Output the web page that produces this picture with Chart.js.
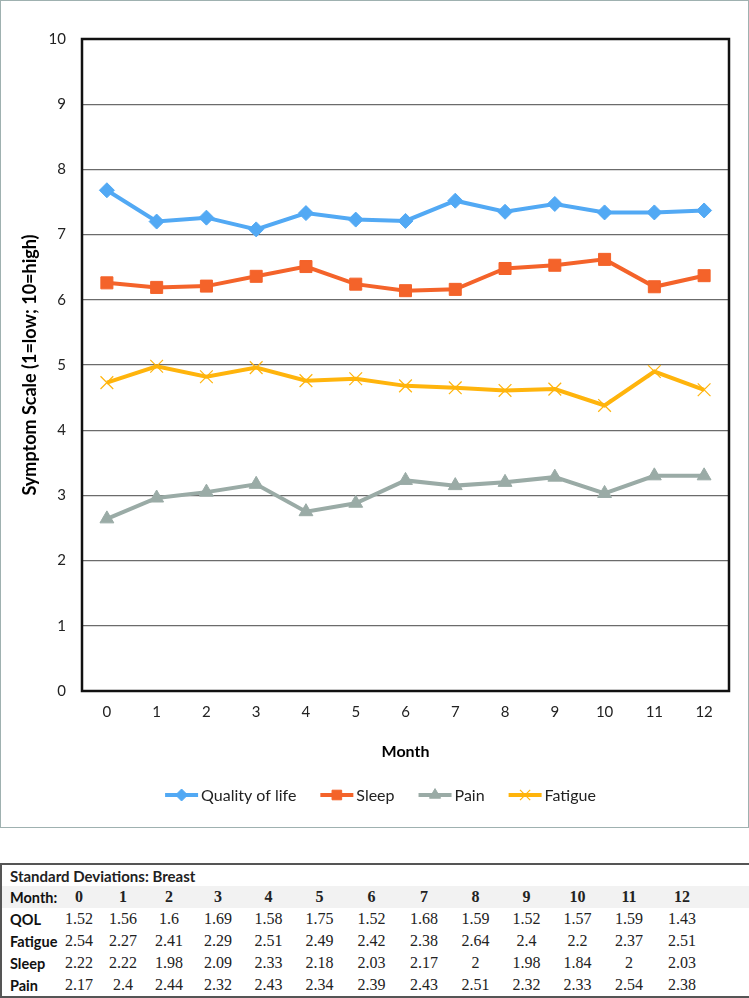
<!DOCTYPE html>
<html>
<head>
<meta charset="utf-8">
<script src="https://cdn.jsdelivr.net/npm/chart.js@4.4.0/dist/chart.umd.min.js"></script>
<style>
  body { margin: 0; background: #fff; width: 749px; height: 998px; position: relative; overflow: hidden; }
  #chartBox { position: absolute; left: 0; top: 0; width: 749px; height: 828px; }
  #frame { position: absolute; left: 0; top: 0; width: 747px; height: 826px; border: 1px solid #9fb1b0; pointer-events: none; }
  #sdTable { position: absolute; left: 0; top: 863px; width: 749px; height: 135px; border: 2px solid #555; border-collapse: collapse; table-layout: fixed; box-sizing: border-box; }
  #sdTable td { padding: 0; text-align: center; font-family: "Liberation Serif", "DejaVu Serif", serif; font-size: 16px; color: #222; white-space: nowrap; }
  #sdTable td.lab { text-align: left; padding-left: 8px; font-family: Lato, "Open Sans", sans-serif; font-weight: bold; font-size: 14.5px; color: #111; }
  #sdTable tr.title td { text-align: left; padding-left: 8px; font-family: Lato, "Open Sans", sans-serif; font-weight: bold; font-size: 15px; height: 21px; }
  #sdTable tr.head td { background: #f2f2f2; font-weight: bold; height: 22px; }
  #sdTable tr.row td { height: 22px; }
</style>
</head>
<body>
<div id="chartBox"><canvas id="myChart" width="749" height="828"></canvas></div>
<div id="frame"></div>
<table id="sdTable">
  <colgroup id="cols"></colgroup>
  <tbody id="sdBody"></tbody>
</table>
<script>
// chart values
const months = ['0', '1', '2', '3', '4', '5', '6', '7', '8', '9', '10', '11', '12'];
const qol     = [7.68, 7.20, 7.26, 7.08, 7.33, 7.23, 7.21, 7.52, 7.35, 7.47, 7.34, 7.34, 7.37];
const sleep   = [6.26, 6.19, 6.21, 6.36, 6.51, 6.24, 6.14, 6.16, 6.48, 6.53, 6.62, 6.20, 6.37];
const pain    = [2.64, 2.96, 3.05, 3.17, 2.75, 2.88, 3.23, 3.15, 3.20, 3.28, 3.03, 3.30, 3.30];
const fatigue = [4.73, 4.98, 4.82, 4.96, 4.76, 4.79, 4.68, 4.65, 4.61, 4.63, 4.38, 4.90, 4.62];

// standard deviation table
const sdQol     = ['1.52', '1.56', '1.6', '1.69', '1.58', '1.75', '1.52', '1.68', '1.59', '1.52', '1.57', '1.59', '1.43'];
const sdFatigue = ['2.54', '2.27', '2.41', '2.29', '2.51', '2.49', '2.42', '2.38', '2.64', '2.4', '2.2', '2.37', '2.51'];
const sdSleep   = ['2.22', '2.22', '1.98', '2.09', '2.33', '2.18', '2.03', '2.17', '2', '1.98', '1.84', '2', '2.03'];
const sdPain    = ['2.17', '2.4', '2.44', '2.32', '2.43', '2.34', '2.39', '2.43', '2.51', '2.32', '2.33', '2.54', '2.38'];

// build the table
const colW = [56, 44, 44, 48, 50, 51, 51, 53, 52, 51, 51, 51, 52, 54, 41];
document.getElementById('cols').innerHTML = colW.map(w => '<col style="width:' + w + 'px">').join('');
const body = document.getElementById('sdBody');
function addRow(cls, label, vals) {
  const tr = document.createElement('tr');
  tr.className = cls;
  let html = '<td class="lab">' + label + '</td>';
  vals.forEach(v => { html += '<td>' + v + '</td>'; });
  html += '<td></td>';
  tr.innerHTML = html;
  body.appendChild(tr);
}
const titleRow = document.createElement('tr');
titleRow.className = 'title';
titleRow.innerHTML = '<td colspan="15">Standard Deviations: Breast</td>';
body.appendChild(titleRow);
addRow('head', 'Month:', months);
addRow('row', 'QOL', sdQol);
addRow('row', 'Fatigue', sdFatigue);
addRow('row', 'Sleep', sdSleep);
addRow('row', 'Pain', sdPain);

Chart.defaults.font.family = 'Lato, "Open Sans", sans-serif';
Chart.defaults.color = '#222';

// plot frame (black box round the plot area)
const plotFrame = {
  id: 'plotFrame',
  beforeDatasetsDraw(chart) {
    const a = chart.chartArea;
    const c = chart.ctx;
    c.save();
    c.strokeStyle = '#111';
    c.lineWidth = 2.5;
    c.strokeRect(a.left, a.top, a.right - a.left, a.bottom - a.top);
    c.restore();
  }
};

// legend drawn as line + marker, like the office chart
const lineLegend = {
  id: 'lineLegend',
  afterDraw(chart) {
    const c = chart.ctx;
    const y = 795;
    const lineLen = 33, gapText = 3, gapItem = 24;
    c.save();
    c.font = '16px Lato, "Open Sans", sans-serif';
    c.textBaseline = 'middle';
    const items = chart.data.datasets.map(ds => ({ ds, w: lineLen + gapText + c.measureText(ds.label).width }));
    const total = items.reduce((s, it) => s + it.w, 0) + gapItem * (items.length - 1);
    let x = chart.width / 2 + 6 - total / 2;
    items.forEach(it => {
      const ds = it.ds;
      c.strokeStyle = ds.borderColor;
      c.lineWidth = ds.borderWidth;
      c.beginPath();
      c.moveTo(x, y);
      c.lineTo(x + lineLen, y);
      c.stroke();
      c.fillStyle = ds.pointBackgroundColor;
      c.strokeStyle = ds.pointBorderColor;
      c.lineWidth = ds.pointBorderWidth;
      Chart.helpers.drawPoint(c, { pointStyle: ds.pointStyle, radius: ds.pointRadius * 0.8, borderWidth: ds.pointBorderWidth }, x + lineLen / 2, y);
      c.fillStyle = '#222';
      c.fillText(ds.label, x + lineLen + gapText, y + 1);
      x += it.w + gapItem;
    });
    c.restore();
  }
};

const ctx = document.getElementById('myChart').getContext('2d');
const myChart = new Chart(ctx, {
  type: 'line',
  data: {
    labels: months,
    datasets: [{
      label: 'Quality of life',
      data: qol,
      borderColor: '#52a9f4',
      backgroundColor: '#52a9f4',
      pointBackgroundColor: '#52a9f4',
      pointBorderColor: '#52a9f4',
      borderWidth: 4,
      pointStyle: 'rectRot',
      pointRadius: 7.5,
      pointBorderWidth: 1
    }, {
      label: 'Sleep',
      data: sleep,
      borderColor: '#f4632a',
      backgroundColor: '#f4632a',
      pointBackgroundColor: '#f4632a',
      pointBorderColor: '#f4632a',
      borderWidth: 4,
      pointStyle: 'rect',
      pointRadius: 8.5,
      pointBorderWidth: 1
    }, {
      label: 'Pain',
      data: pain,
      borderColor: '#9aaba6',
      backgroundColor: '#9aaba6',
      pointBackgroundColor: '#9aaba6',
      pointBorderColor: '#9aaba6',
      borderWidth: 4,
      pointStyle: 'triangle',
      pointRadius: 8,
      pointBorderWidth: 1
    }, {
      label: 'Fatigue',
      data: fatigue,
      borderColor: '#ffb40c',
      backgroundColor: '#ffb40c',
      pointBackgroundColor: '#ffb40c',
      pointBorderColor: '#ffb40c',
      borderWidth: 4,
      pointStyle: 'crossRot',
      pointRadius: 9,
      pointBorderWidth: 1.2
    }]
  },
  options: {
    responsive: false,
    animation: false,
    devicePixelRatio: 1,
    layout: { padding: { left: 0, top: 39, right: 20, bottom: 57 } },
    plugins: {
      legend: { display: false },
      tooltip: { enabled: false }
    },
    scales: {
      x: {
        type: 'category',
        offset: true,
        grid: { display: false, drawTicks: false },
        border: { display: false },
        ticks: { padding: 12, font: { size: 15 }, color: '#222' },
        title: { display: true, text: 'Month', font: { size: 16, weight: 'bold' }, color: '#000', padding: { top: 0, bottom: 10 } },
        afterFit(scale) { scale.height = 80; }
      },
      y: {
        min: 0,
        max: 10,
        ticks: { stepSize: 1, padding: 16, font: { size: 15 }, color: '#222' },
        grid: { color: '#6b6b6b', lineWidth: 1.2, drawTicks: false },
        border: { display: false },
        title: { display: true, text: 'Symptom Scale (1=low; 10=high)', font: { size: 18, weight: 'bold' }, color: '#000', padding: { top: 19, bottom: 0 } },
        afterFit(scale) { scale.width = 82; }
      }
    }
  },
  plugins: [plotFrame, lineLegend]
});
</script>
</body>
</html>
